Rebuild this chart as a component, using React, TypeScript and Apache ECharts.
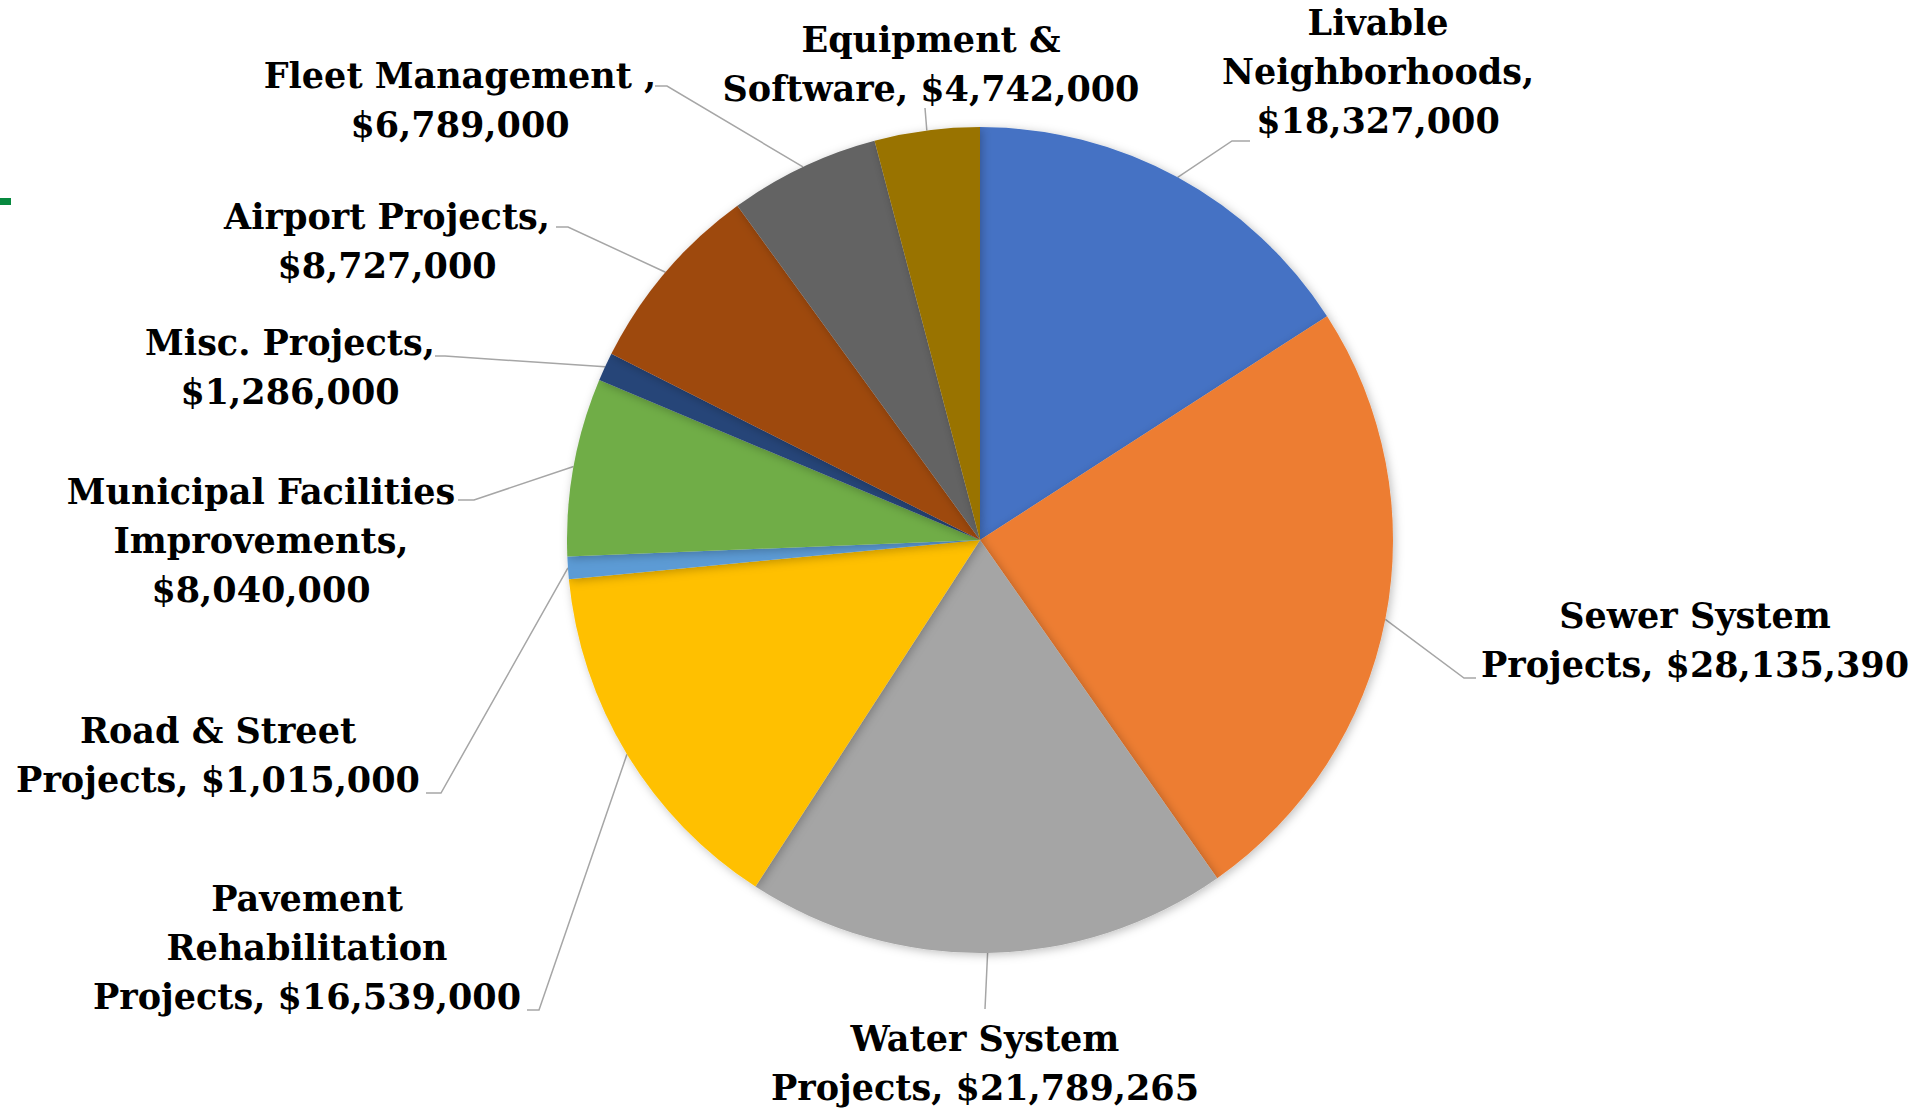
import React, { useEffect, useRef } from "react";
import * as echarts from "echarts";

const categories = [
  "Livable Neighborhoods",
  "Sewer System Projects",
  "Water System Projects",
  "Pavement Rehabilitation Projects",
  "Road & Street Projects",
  "Municipal Facilities Improvements",
  "Misc. Projects",
  "Airport Projects",
  "Fleet Management ",
  "Equipment & Software",
];

const values = [
  18327000, 28135390, 21789265, 16539000, 1015000, 8040000, 1286000, 8727000,
  6789000, 4742000,
];

// label text templates ({v} is replaced by the formatted value)
const labelTemplates = [
  "Livable\nNeighborhoods,\n{v}",
  "Sewer System\nProjects, {v}",
  "Water System\nProjects, {v}",
  "Pavement\nRehabilitation\nProjects, {v}",
  "Road & Street\nProjects, {v}",
  "Municipal Facilities\nImprovements,\n{v}",
  "Misc. Projects,\n{v}",
  "Airport Projects,\n{v}",
  "Fleet Management ,\n{v}",
  "Equipment &\nSoftware, {v}",
];

const colors = [
  "#4472C4",
  "#ED7D31",
  "#A5A5A5",
  "#FFC000",
  "#5B9BD5",
  "#70AD47",
  "#264478",
  "#9E480E",
  "#636363",
  "#997300",
];

// label block centres (layout, px)
const labelCenters: [number, number][] = [
  [1378, 71],
  [1695, 640],
  [985, 1063],
  [307, 947],
  [218, 755],
  [261, 540],
  [290, 367],
  [387, 241],
  [460, 100],
  [931, 64],
];

// leader-line attachment offsets from label centre, and horizontal stub length
const leaderEnds: [number, number, number][] = [
  [-128, 70, -18],
  [-219, 38, -12],
  [0, -54, 0],
  [220, 63, 12],
  [208, 38, 15],
  [197, -40, 16],
  [145, -11, 10],
  [169, -14, 12],
  [195, -14, 12],
  [-6, 44, 0],
];

const CX = 980;
const CY = 540;
const R = 413;

function fmt(v: number) {
  return "$" + v.toString().replace(/\B(?=(\d{3})+(?!\d))/g, ",");
}

function anchorPoint(i: number): [number, number] {
  const total = values.reduce((a, b) => a + b, 0);
  let before = 0;
  for (let k = 0; k < i; k++) before += values[k];
  const mid = (before + values[i] / 2) / total;
  const ang = Math.PI / 2 - mid * Math.PI * 2;
  return [CX + R * Math.cos(ang), CY - R * Math.sin(ang)];
}

export default function App() {
  const ref = useRef<HTMLDivElement>(null);
  useEffect(() => {
    if (!ref.current) return;
    const chart = echarts.init(ref.current, null, { renderer: "svg" });
    chart.setOption({
      animation: false,
      backgroundColor: "#ffffff",
      graphic: [
        {
          type: "rect",
          shape: { x: 0, y: 198, width: 11, height: 7 },
          style: { fill: "#07893F" },
        },
      ],
      series: [
        {
          type: "pie",
          center: [CX, CY],
          radius: R,
          startAngle: 90,
          clockwise: true,
          avoidLabelOverlap: false,
          data: categories.map((c, i) => ({
            name: c,
            value: values[i],
            itemStyle: { color: colors[i] },
          })),
          itemStyle: {
            shadowBlur: 10,
            shadowColor: "rgba(0,0,0,0.25)",
            shadowOffsetX: 2,
            shadowOffsetY: 2,
          },
          label: {
            show: true,
            formatter: (p: any) =>
              labelTemplates[p.dataIndex].replace("{v}", fmt(values[p.dataIndex])),
            fontFamily: "DejaVu Serif",
            fontWeight: "bold",
            fontSize: 35,
            lineHeight: 49,
            color: "#000000",
            align: "center",
          },
          labelLine: {
            show: true,
            length: 15,
            length2: 15,
            lineStyle: { color: "#A6A6A6", width: 1.5 },
          },
          labelLayout: (params: any) => {
            const i = params.dataIndex;
            const p = labelCenters[i];
            const e = leaderEnds[i];
            const a = anchorPoint(i);
            const end = [p[0] + e[0], p[1] + e[1]];
            const elbow = e[2] === 0
              ? [(a[0] + end[0]) / 2, (a[1] + end[1]) / 2]
              : [end[0] + e[2], end[1]];
            return {
              x: p[0],
              y: p[1],
              align: "center",
              verticalAlign: "middle",
              labelLinePoints: [a, elbow, end],
            };
          },
          emphasis: { disabled: true },
        },
      ],
    });
    return () => chart.dispose();
  }, []);
  return (
    <div
      ref={ref}
      style={{ position: "absolute", left: 0, top: 0, width: 1929, height: 1113 }}
    />
  );
}
